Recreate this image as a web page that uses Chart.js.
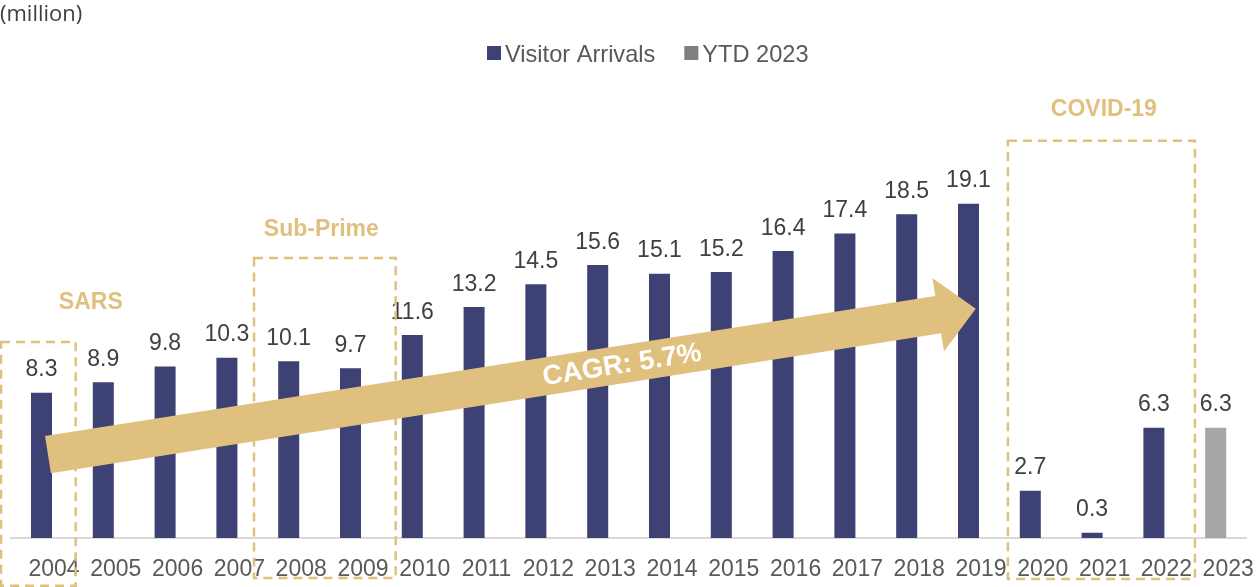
<!DOCTYPE html>
<html>
<head>
<meta charset="utf-8">
<script src="https://cdn.jsdelivr.net/npm/chart.js@4.4.1/dist/chart.umd.min.js"></script>
<style>
  html, body { margin: 0; padding: 0; background: #fff; }
  #wrap { width: 1256px; height: 587px; position: relative; }
</style>
</head>
<body>
<div id="wrap"><canvas id="arrivals-chart"></canvas></div>
<script>
// Visitor arrivals by year (million)
const years = ['2004', '2005', '2006', '2007', '2008', '2009', '2010', '2011', '2012', '2013',
               '2014', '2015', '2016', '2017', '2018', '2019', '2020', '2021', '2022', '2023'];
const visitorArrivals = [8.3, 8.9, 9.8, 10.3, 10.1, 9.7, 11.6, 13.2, 14.5, 15.6,
                         15.1, 15.2, 16.4, 17.4, 18.5, 19.1, 2.7, 0.3, 6.3, null];
const ytd2023 = [null, null, null, null, null, null, null, null, null, null,
                 null, null, null, null, null, null, null, null, null, 6.3];
const seriesNames = ['Visitor Arrivals', 'YTD 2023'];
const eventNames = ['SARS', 'Sub-Prime', 'COVID-19'];
const cagrText = 'CAGR: 5.7%';
const unitText = '(million)';

const FONT = "'Liberation Sans', Arial, sans-serif";
const GOLD = '#E0C07E';
const NAVY = '#3E4174';
const GREY = '#A6A6A6';

// Dashed event frames, placed in category / value units so they follow the scales
const eventFrames = [
    { from: -0.655, to: 0.553, top: 11.2, bottom: -2.73, labelX: 0.798, labelY: 13.07 },
    { from: 3.439, to: 5.731, top: 16.0, bottom: -2.29, labelX: 4.528, labelY: 17.26 },
    { from: 15.638, to: 18.664, top: 22.7, bottom: -2.34, labelX: 17.19, labelY: 24.13 }
];

// Growth arrow: tail centre and tip in category / value units
const arrowSpec = { tail: [0.105, 4.763], tip: [15.117, 13.10], shaftHalf: 18.9, headLen: 38, headHalf: 37.2, textAt: 581 };

// Value labels above each bar
const valueLabels = {
    id: 'valueLabels',
    afterDatasetsDraw(chart) {
        const ctx = chart.ctx;
        ctx.save();
        ctx.font = '23px ' + FONT;
        ctx.fillStyle = '#404040';
        ctx.textAlign = 'center';
        ctx.textBaseline = 'alphabetic';
        chart.data.datasets.forEach((ds, i) => {
            chart.getDatasetMeta(i).data.forEach((bar, j) => {
                const v = ds.data[j];
                if (v === null || v === undefined) return;
                ctx.fillText(v.toFixed(1), bar.x, bar.y - 16.3);
            });
        });
        ctx.restore();
    }
};

// Arrow, event frames, titles and legend
const overlays = {
    id: 'overlays',
    afterDraw(chart) {
        const ctx = chart.ctx;
        const xs = chart.scales.x, ys = chart.scales.y;
        const px = (i, v) => [xs.getPixelForValue(i), ys.getPixelForValue(v)];

        ctx.save();

        // CAGR arrow
        const p0 = px(...arrowSpec.tail), p1 = px(...arrowSpec.tip);
        const dx = p1[0] - p0[0], dy = p1[1] - p0[1];
        const len = Math.hypot(dx, dy);
        const u = [dx / len, dy / len], n = [-u[1], u[0]];
        const pt = (a, b) => [p0[0] + u[0] * a + n[0] * b, p0[1] + u[1] * a + n[1] * b];
        const base = len - arrowSpec.headLen;
        const shape = [
            pt(0, -arrowSpec.shaftHalf), pt(base, -arrowSpec.shaftHalf), pt(base, -arrowSpec.headHalf),
            pt(len, 0), pt(base, arrowSpec.headHalf), pt(base, arrowSpec.shaftHalf), pt(0, arrowSpec.shaftHalf)
        ];
        ctx.fillStyle = GOLD;
        ctx.beginPath();
        shape.forEach((p, k) => k ? ctx.lineTo(p[0], p[1]) : ctx.moveTo(p[0], p[1]));
        ctx.closePath();
        ctx.fill();

        const tc = pt(arrowSpec.textAt, 0);
        ctx.translate(tc[0], tc[1]);
        ctx.rotate(Math.atan2(dy, dx));
        ctx.fillStyle = '#fff';
        ctx.font = 'bold 27.5px ' + FONT;
        ctx.textAlign = 'center';
        ctx.textBaseline = 'middle';
        ctx.fillText(cagrText, 0, 1);
        ctx.setTransform(1, 0, 0, 1, 0, 0);

        // event frames
        ctx.strokeStyle = GOLD;
        ctx.lineWidth = 2.5;
        ctx.setLineDash([9, 6]);
        eventFrames.forEach(f => {
            const a = px(f.from, f.top), b = px(f.to, f.bottom);
            ctx.strokeRect(a[0], a[1], b[0] - a[0], b[1] - a[1]);
        });
        ctx.setLineDash([]);

        ctx.fillStyle = GOLD;
        ctx.font = 'bold 23px ' + FONT;
        ctx.textAlign = 'center';
        ctx.textBaseline = 'alphabetic';
        eventFrames.forEach((f, k) => {
            const p = px(f.labelX, f.labelY);
            ctx.fillText(eventNames[k], p[0], p[1]);
        });

        // unit caption
        ctx.fillStyle = '#404040';
        ctx.font = "22px 'Open Sans', " + FONT;
        ctx.textAlign = 'left';
        ctx.fillText(unitText, 0, 21);

        // legend
        const swatches = [NAVY, '#7F7F7F'];
        ctx.font = '23.6px ' + FONT;
        let x = 487;
        chart.data.datasets.forEach((ds, k) => {
            ctx.fillStyle = swatches[k];
            ctx.fillRect(x, 46, 14, 14);
            x += 18;
            ctx.fillStyle = '#595959';
            ctx.fillText(ds.label, x, 62);
            x += ctx.measureText(ds.label).width + 29;
        });

        ctx.restore();
    }
};

new Chart(document.getElementById('arrivals-chart'), {
    type: 'bar',
    data: {
        labels: years,
        datasets: [
            { label: seriesNames[0], data: visitorArrivals, backgroundColor: NAVY },
            { label: seriesNames[1], data: ytd2023, backgroundColor: GREY }
        ]
    },
    options: {
        responsive: true,
        maintainAspectRatio: false,
        animation: false,
        devicePixelRatio: 1,
        barPercentage: 0.34,
        categoryPercentage: 1,
        layout: { padding: { top: 13, left: 10.6, right: 9.4, bottom: 0 } },
        plugins: {
            legend: { display: false },
            tooltip: { enabled: false }
        },
        scales: {
            x: {
                stacked: true,
                grid: { display: false, drawTicks: false },
                border: { display: true, color: '#D9D9D9', width: 2 },
                ticks: {
                    color: '#595959',
                    font: { family: FONT, size: 23 },
                    padding: 18,
                    labelOffset: 12.5,
                    maxRotation: 0,
                    autoSkip: false
                },
                // fixed axis band; edge labels may overhang without squeezing the plot
                afterFit: s => {
                    s.height = 49;
                    s.paddingLeft = 0;
                    s.paddingRight = 0;
                }
            },
            y: {
                stacked: true,
                display: false,
                min: 0,
                max: 30
            }
        }
    },
    plugins: [valueLabels, overlays]
});
</script>
</body>
</html>
